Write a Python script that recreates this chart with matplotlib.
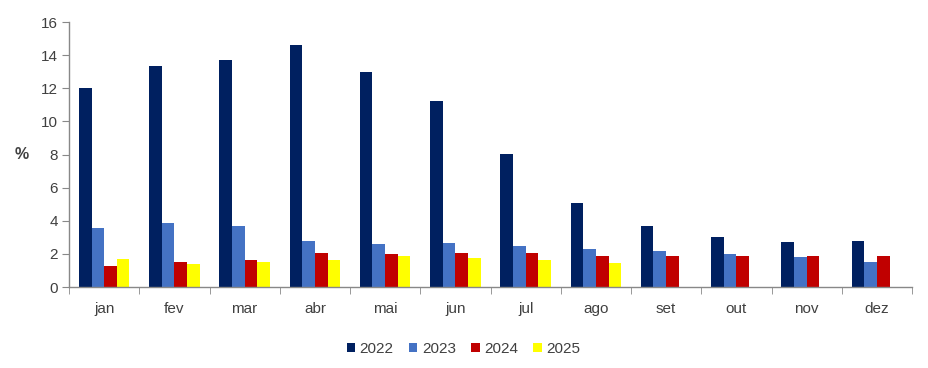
import matplotlib
matplotlib.use("Agg")
import matplotlib.pyplot as plt
import numpy as np

months = ["jan", "fev", "mar", "abr", "mai", "jun", "jul", "ago", "set", "out", "nov", "dez"]
series_names = ["2022", "2023", "2024", "2025"]
v2022 = [12.0, 13.33, 13.69, 14.59, 12.98, 11.21, 8.03, 5.07, 3.66, 3.0, 2.70, 2.80]
v2023 = [3.55, 3.85, 3.66, 2.76, 2.60, 2.68, 2.50, 2.27, 2.15, 1.99, 1.81, 1.49]
v2024 = [1.27, 1.53, 1.65, 2.05, 1.97, 2.03, 2.07, 1.89, 1.89, 1.87, 1.89, 1.85]
v2025 = [1.69, 1.39, 1.51, 1.63, 1.87, 1.77, 1.61, 1.45, None, None, None, None]
colors = ["#002060", "#4472C4", "#C00000", "#FFFF00"]

plt.rcParams['font.family'] = ['Liberation Sans', 'DejaVu Sans']

fig = plt.figure(figsize=(9.29, 3.68), dpi=100)
ax = fig.add_axes([0.0743, 0.2201, 0.9074, 0.7201])

x = np.arange(len(months))
w = 0.18
all_series = [v2022, v2023, v2024, v2025]
for i, (name, vals, c) in enumerate(zip(series_names, all_series, colors)):
    xs = [xi + (i - 1.5) * w for xi, v in zip(x, vals) if v is not None]
    ys = [v for v in vals if v is not None]
    ax.bar(xs, ys, width=w, color=c, label=name, linewidth=0)

ax.set_xlim(-0.5, len(months) - 0.5)
ax.set_ylim(0, 16)
ax.set_yticks(range(0, 17, 2))
ax.set_xticks(x)
ax.set_xticklabels(months)
ax.set_xticks(np.arange(-0.5, len(months)), minor=True)
ax.tick_params(axis='x', which='major', length=0, pad=11, labelsize=11, colors='#404040')
ax.tick_params(axis='x', which='minor', length=5, color='#888888', direction='out')
ax.tick_params(axis='y', length=5, color='#888888', labelsize=11, labelcolor='#404040', pad=3)

for s in ['top', 'right']:
    ax.spines[s].set_visible(False)
for s in ['left', 'bottom']:
    ax.spines[s].set_color('#888888')
    ax.spines[s].set_linewidth(1.0)

ax.set_ylabel('%', rotation=0, fontsize=11.5, fontweight='bold', color='#404040', labelpad=14, va='center')

leg = ax.legend(loc='upper center', bbox_to_anchor=(0.468, -0.155), ncol=4, frameon=False,
                fontsize=11, handlelength=0.55, handleheight=0.55, handletextpad=0.3,
                columnspacing=1.0)
for t in leg.get_texts():
    t.set_color('#404040')

fig.savefig('out.png', dpi=100)
